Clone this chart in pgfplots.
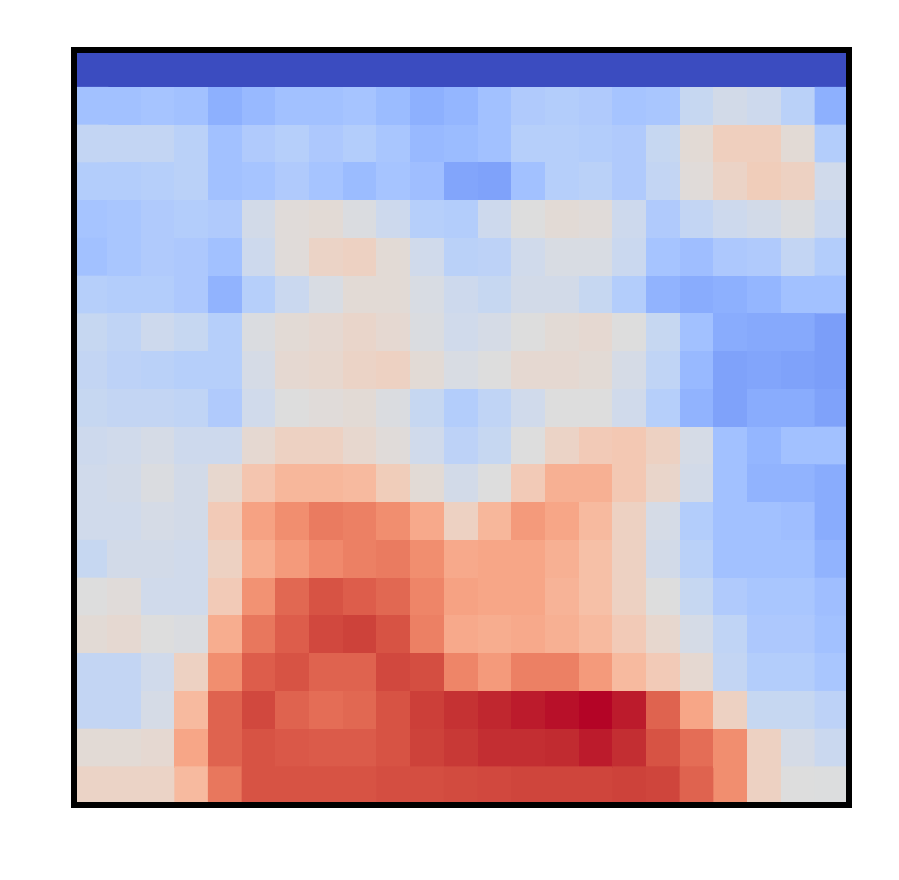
\documentclass[border=0pt]{standalone}
\usepackage{pgfplots}
\pgfplotsset{compat=1.18}

\pgfplotsset{
  colormap={coolwarm}{
    rgb255=(59,76,192) rgb255=(68,90,204) rgb255=(77,104,215) rgb255=(87,117,225)
    rgb255=(98,130,234) rgb255=(108,142,241) rgb255=(119,154,247) rgb255=(130,165,251)
    rgb255=(141,176,254) rgb255=(152,185,255) rgb255=(163,194,255) rgb255=(174,201,253)
    rgb255=(184,208,249) rgb255=(194,213,244) rgb255=(204,217,238) rgb255=(213,219,230)
    rgb255=(221,221,221) rgb255=(229,216,209) rgb255=(236,211,197) rgb255=(241,204,185)
    rgb255=(245,196,173) rgb255=(247,187,160) rgb255=(247,177,148) rgb255=(247,166,135)
    rgb255=(244,154,123) rgb255=(241,141,111) rgb255=(236,127,99) rgb255=(229,112,88)
    rgb255=(222,96,77) rgb255=(213,80,66) rgb255=(203,62,56) rgb255=(192,40,47)
    rgb255=(180,4,38)
  }
}

% heatmap: one line per row, x y value
\pgfplotstableread[row sep=\\]{
x y c \\
0 0 0 \\ 1 0 0 \\ 2 0 0 \\ 3 0 0 \\ 4 0 0 \\ 5 0 0 \\ 6 0 0 \\ 7 0 0 \\ 8 0 0 \\ 9 0 0 \\ 10 0 0 \\ 11 0 0 \\ 12 0 0 \\ 13 0 0 \\ 14 0 0 \\ 15 0 0 \\ 16 0 0 \\ 17 0 0 \\ 18 0 0 \\ 19 0 0 \\ 20 0 0 \\ 21 0 0 \\ 22 0 0 \\
0 1 .31 \\ 1 1 .31 \\ 2 1 .32 \\ 3 1 .31 \\ 4 1 .25 \\ 5 1 .28 \\ 6 1 .31 \\ 7 1 .31 \\ 8 1 .32 \\ 9 1 .29 \\ 10 1 .25 \\ 11 1 .27 \\ 12 1 .31 \\ 13 1 .35 \\ 14 1 .36 \\ 15 1 .35 \\ 16 1 .32 \\ 17 1 .33 \\ 18 1 .42 \\ 19 1 .46 \\ 20 1 .44 \\ 21 1 .38 \\ 22 1 .25 \\
0 2 .41 \\ 1 2 .41 \\ 2 2 .41 \\ 3 2 .38 \\ 4 2 .31 \\ 5 2 .35 \\ 6 2 .37 \\ 7 2 .34 \\ 8 2 .36 \\ 9 2 .33 \\ 10 2 .28 \\ 11 2 .29 \\ 12 2 .31 \\ 13 2 .37 \\ 14 2 .37 \\ 15 2 .36 \\ 16 2 .35 \\ 17 2 .42 \\ 18 2 .52 \\ 19 2 .58 \\ 20 2 .58 \\ 21 2 .52 \\ 22 2 .36 \\
0 3 .36 \\ 1 3 .36 \\ 2 3 .37 \\ 3 3 .38 \\ 4 3 .31 \\ 5 3 .32 \\ 6 3 .35 \\ 7 3 .32 \\ 8 3 .29 \\ 9 3 .32 \\ 10 3 .30 \\ 11 3 .22 \\ 12 3 .21 \\ 13 3 .31 \\ 14 3 .37 \\ 15 3 .38 \\ 16 3 .35 \\ 17 3 .41 \\ 18 3 .51 \\ 19 3 .56 \\ 20 3 .59 \\ 21 3 .57 \\ 22 3 .45 \\
0 4 .32 \\ 1 4 .33 \\ 2 4 .35 \\ 3 4 .36 \\ 4 4 .35 \\ 5 4 .46 \\ 6 4 .51 \\ 7 4 .52 \\ 8 4 .49 \\ 9 4 .44 \\ 10 4 .37 \\ 11 4 .36 \\ 12 4 .44 \\ 13 4 .50 \\ 14 4 .52 \\ 15 4 .51 \\ 16 4 .44 \\ 17 4 .35 \\ 18 4 .41 \\ 19 4 .44 \\ 20 4 .46 \\ 21 4 .49 \\ 22 4 .43 \\
0 5 .31 \\ 1 5 .33 \\ 2 5 .35 \\ 3 5 .34 \\ 4 5 .31 \\ 5 5 .44 \\ 6 5 .51 \\ 7 5 .56 \\ 8 5 .57 \\ 9 5 .52 \\ 10 5 .45 \\ 11 5 .38 \\ 12 5 .39 \\ 13 5 .45 \\ 14 5 .48 \\ 15 5 .48 \\ 16 5 .43 \\ 17 5 .32 \\ 18 5 .30 \\ 19 5 .34 \\ 20 5 .35 \\ 21 5 .41 \\ 22 5 .36 \\
0 6 .37 \\ 1 6 .36 \\ 2 6 .36 \\ 3 6 .34 \\ 4 6 .26 \\ 5 6 .37 \\ 6 6 .43 \\ 7 6 .48 \\ 8 6 .52 \\ 9 6 .52 \\ 10 6 .48 \\ 11 6 .44 \\ 12 6 .42 \\ 13 6 .46 \\ 14 6 .46 \\ 15 6 .42 \\ 16 6 .36 \\ 17 6 .26 \\ 18 6 .24 \\ 19 6 .25 \\ 20 6 .27 \\ 21 6 .31 \\ 22 6 .31 \\
0 7 .42 \\ 1 7 .40 \\ 2 7 .44 \\ 3 7 .42 \\ 4 7 .37 \\ 5 7 .49 \\ 6 7 .52 \\ 7 7 .53 \\ 8 7 .55 \\ 9 7 .53 \\ 10 7 .49 \\ 11 7 .45 \\ 12 7 .47 \\ 13 7 .50 \\ 14 7 .52 \\ 15 7 .53 \\ 16 7 .50 \\ 17 7 .42 \\ 18 7 .31 \\ 19 7 .24 \\ 20 7 .23 \\ 21 7 .23 \\ 22 7 .20 \\
0 8 .41 \\ 1 8 .39 \\ 2 8 .38 \\ 3 8 .37 \\ 4 8 .37 \\ 5 8 .47 \\ 6 8 .53 \\ 7 8 .54 \\ 8 8 .56 \\ 9 8 .57 \\ 10 8 .52 \\ 11 8 .48 \\ 12 8 .50 \\ 13 8 .53 \\ 14 8 .53 \\ 15 8 .52 \\ 16 8 .47 \\ 17 8 .40 \\ 18 8 .28 \\ 19 8 .21 \\ 20 8 .22 \\ 21 8 .21 \\ 22 8 .20 \\
0 9 .42 \\ 1 9 .41 \\ 2 9 .41 \\ 3 9 .40 \\ 4 9 .35 \\ 5 9 .45 \\ 6 9 .50 \\ 7 9 .51 \\ 8 9 .52 \\ 9 9 .49 \\ 10 9 .42 \\ 11 9 .36 \\ 12 9 .40 \\ 13 9 .45 \\ 14 9 .50 \\ 15 9 .50 \\ 16 9 .45 \\ 17 9 .37 \\ 18 9 .26 \\ 19 9 .21 \\ 20 9 .24 \\ 21 9 .24 \\ 22 9 .21 \\
0 10 .44 \\ 1 10 .45 \\ 2 10 .47 \\ 3 10 .44 \\ 4 10 .44 \\ 5 10 .53 \\ 6 10 .57 \\ 7 10 .57 \\ 8 10 .54 \\ 9 10 .51 \\ 10 10 .45 \\ 11 10 .39 \\ 12 10 .42 \\ 13 10 .50 \\ 14 10 .56 \\ 15 10 .60 \\ 16 10 .61 \\ 17 10 .57 \\ 18 10 .47 \\ 19 10 .31 \\ 20 10 .27 \\ 21 10 .31 \\ 22 10 .31 \\
0 11 .45 \\ 1 11 .46 \\ 2 11 .49 \\ 3 11 .46 \\ 4 11 .54 \\ 5 11 .62 \\ 6 11 .67 \\ 7 11 .67 \\ 8 11 .66 \\ 9 11 .59 \\ 10 11 .52 \\ 11 11 .46 \\ 12 11 .50 \\ 13 11 .60 \\ 14 11 .69 \\ 15 11 .69 \\ 16 11 .61 \\ 17 11 .55 \\ 18 11 .46 \\ 19 11 .31 \\ 20 11 .26 \\ 21 11 .26 \\ 22 11 .24 \\
0 12 .45 \\ 1 12 .45 \\ 2 12 .47 \\ 3 12 .46 \\ 4 12 .60 \\ 5 12 .73 \\ 6 12 .78 \\ 7 12 .82 \\ 8 12 .81 \\ 9 12 .78 \\ 10 12 .71 \\ 11 12 .57 \\ 12 12 .67 \\ 13 12 .75 \\ 14 12 .72 \\ 15 12 .66 \\ 16 12 .57 \\ 17 12 .47 \\ 18 12 .36 \\ 19 12 .31 \\ 20 12 .31 \\ 21 12 .30 \\ 22 12 .24 \\
0 13 .42 \\ 1 13 .46 \\ 2 13 .46 \\ 3 13 .45 \\ 4 13 .57 \\ 5 13 .70 \\ 6 13 .75 \\ 7 13 .79 \\ 8 13 .81 \\ 9 13 .82 \\ 10 13 .78 \\ 11 13 .71 \\ 12 13 .72 \\ 13 13 .72 \\ 14 13 .69 \\ 15 13 .64 \\ 16 13 .57 \\ 17 13 .46 \\ 18 13 .38 \\ 19 13 .31 \\ 20 13 .31 \\ 21 13 .31 \\ 22 13 .26 \\
0 14 .50 \\ 1 14 .51 \\ 2 14 .45 \\ 3 14 .45 \\ 4 14 .60 \\ 5 14 .77 \\ 6 14 .86 \\ 7 14 .90 \\ 8 14 .88 \\ 9 14 .86 \\ 10 14 .80 \\ 11 14 .73 \\ 12 14 .72 \\ 13 14 .72 \\ 14 14 .68 \\ 15 14 .64 \\ 16 14 .57 \\ 17 14 .50 \\ 18 14 .42 \\ 19 14 .35 \\ 20 14 .33 \\ 21 14 .33 \\ 22 14 .30 \\
0 15 .52 \\ 1 15 .53 \\ 2 15 .50 \\ 3 15 .49 \\ 4 15 .70 \\ 5 15 .83 \\ 6 15 .88 \\ 7 15 .92 \\ 8 15 .93 \\ 9 15 .90 \\ 10 15 .81 \\ 11 15 .71 \\ 12 15 .70 \\ 13 15 .71 \\ 14 15 .69 \\ 15 15 .66 \\ 16 15 .60 \\ 17 15 .54 \\ 18 15 .47 \\ 19 15 .40 \\ 20 15 .34 \\ 21 15 .34 \\ 22 15 .31 \\
0 16 .41 \\ 1 16 .41 \\ 2 16 .45 \\ 3 16 .57 \\ 4 16 .78 \\ 5 16 .88 \\ 6 16 .90 \\ 7 16 .87 \\ 8 16 .87 \\ 9 16 .92 \\ 10 16 .91 \\ 11 16 .80 \\ 12 16 .75 \\ 13 16 .81 \\ 14 16 .81 \\ 15 16 .75 \\ 16 16 .66 \\ 17 16 .60 \\ 18 16 .53 \\ 19 16 .41 \\ 20 16 .36 \\ 21 16 .36 \\ 22 16 .33 \\
0 17 .41 \\ 1 17 .41 \\ 2 17 .47 \\ 3 17 .66 \\ 4 17 .87 \\ 5 17 .92 \\ 6 17 .87 \\ 7 17 .85 \\ 8 17 .86 \\ 9 17 .90 \\ 10 17 .935 \\ 11 17 .955 \\ 12 17 .97 \\ 13 17 .98 \\ 14 17 .99 \\ 15 17 1.0 \\ 16 17 .98 \\ 17 17 .87 \\ 18 17 .72 \\ 19 17 .57 \\ 20 17 .42 \\ 21 17 .42 \\ 22 17 .39 \\
0 18 .52 \\ 1 18 .52 \\ 2 18 .53 \\ 3 18 .72 \\ 4 18 .87 \\ 5 18 .90 \\ 6 18 .89 \\ 7 18 .885 \\ 8 18 .885 \\ 9 18 .90 \\ 10 18 .93 \\ 11 18 .945 \\ 12 18 .96 \\ 13 18 .96 \\ 14 18 .965 \\ 15 18 .98 \\ 16 18 .96 \\ 17 18 .90 \\ 18 18 .85 \\ 19 18 .78 \\ 20 18 .57 \\ 21 18 .47 \\ 22 18 .43 \\
0 19 .56 \\ 1 19 .56 \\ 2 19 .56 \\ 3 19 .66 \\ 4 19 .83 \\ 5 19 .90 \\ 6 19 .90 \\ 7 19 .90 \\ 8 19 .90 \\ 9 19 .91 \\ 10 19 .91 \\ 11 19 .915 \\ 12 19 .92 \\ 13 19 .925 \\ 14 19 .925 \\ 15 19 .925 \\ 16 19 .93 \\ 17 19 .925 \\ 18 19 .87 \\ 19 19 .78 \\ 20 19 .57 \\ 21 19 .50 \\ 22 19 .495 \\
}\heat

\begin{document}
\begin{tikzpicture}
\begin{axis}[
  scale only axis,
  width=193.75pt, height=188.75pt,
  xmin=-0.5, xmax=22.5, ymin=-0.5, ymax=19.5,
  y dir=reverse,
  enlargelimits=false,
  xtick=\empty, ytick=\empty,
  colormap name=coolwarm,
  point meta min=0, point meta max=1,
  axis on top,
  axis line style={line width=1.375pt, black},
]
\addplot[matrix plot*, mesh/cols=23, point meta=explicit] table[x=x, y=y, meta=c] {\heat};
\coordinate (bl) at (rel axis cs:0,0);
\coordinate (tr) at (rel axis cs:1,1);
\end{axis}
\path ([shift={(-18.5pt,-18.5pt)}]bl) rectangle ([shift={(12.5pt,12.5pt)}]tr);
\end{tikzpicture}
\end{document}
